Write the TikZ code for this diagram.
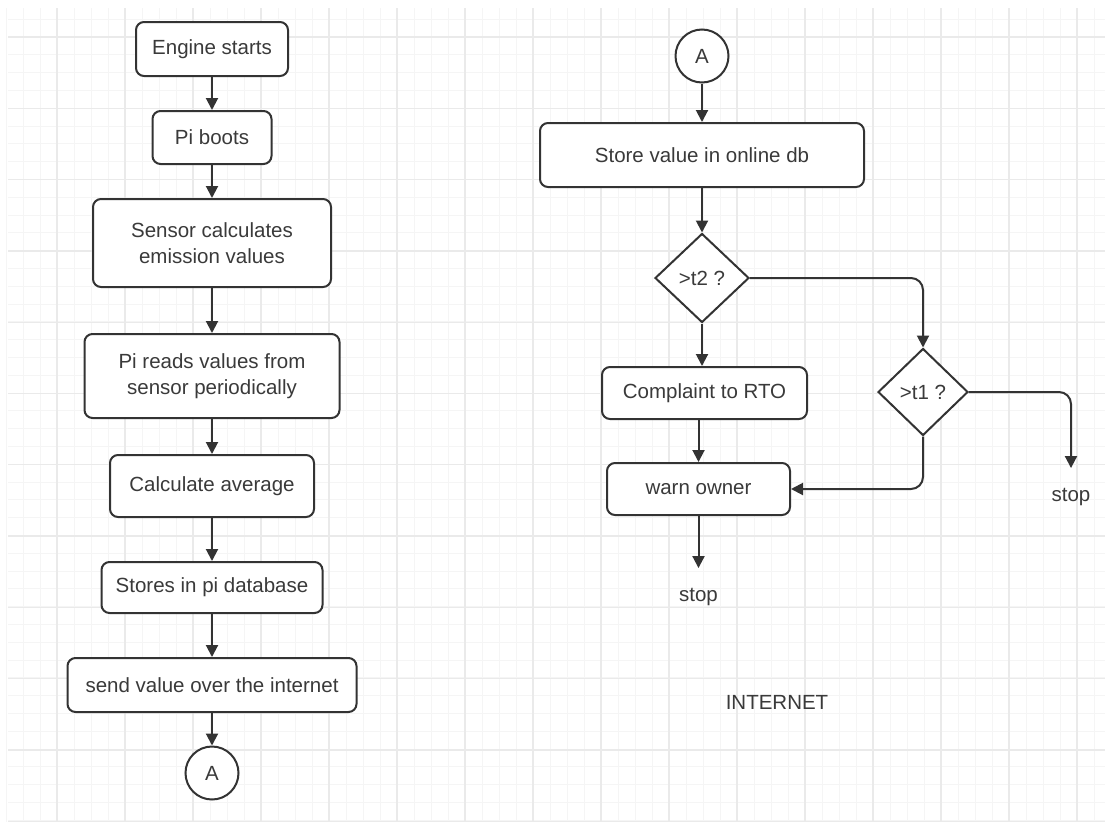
\documentclass[tikz,border=0pt]{standalone}
\usepackage{fontspec}
\setmainfont{Liberation Sans}
\usetikzlibrary{arrows.meta,shapes.geometric}
\definecolor{ln}{HTML}{333333}
\definecolor{tx}{HTML}{3A3A3A}
\definecolor{gmaj}{HTML}{EAEAEA}
\definecolor{gmin}{HTML}{F5F5F5}
\begin{document}
\begin{tikzpicture}[x=1pt,y=-1pt,
  font=\fontsize{20.5}{26}\selectfont, text=tx,
  box/.style={draw=ln, line width=2pt, rounded corners=8pt, fill=white, align=center, inner sep=0pt},
  conn/.style={draw=ln, line width=2pt, circle, fill=white, minimum size=53pt, inner sep=0pt},
  dec/.style={draw=ln, line width=2pt, diamond, fill=white, inner sep=0pt},
  lbl/.style={inner sep=0pt},
  arr/.style={draw=ln, line width=2pt, -{Triangle[length=12pt,width=12pt]}},
  gridmin/.style={draw=gmin, line width=1pt},
  gridmaj/.style={draw=gmaj, line width=1.3pt},
]
\useasboundingbox (0,0) rectangle (1115,830);
\fill[white] (0,0) rectangle (1115,830);
% minor grid
\foreach \i in {0,...,64} \draw[gridmin] ({6+17*\i},8) -- ({6+17*\i},822);
\foreach \i in {0,...,45} \draw[gridmin] (8,{19.2+17.8*\i}) -- (1105,{19.2+17.8*\i});
% major grid
\foreach \i in {0,...,15} \draw[gridmaj] ({57+68*\i},8) -- ({57+68*\i},822);
\foreach \i in {0,...,11} \draw[gridmaj] (8,{37+71.3*\i}) -- (1105,{37+71.3*\i});

% left column
\node[box, minimum width=152pt, minimum height=54pt] (n1) at (212,49) {Engine starts};
\node[box, minimum width=119pt, minimum height=53pt] (n2) at (212,137.5) {Pi boots};
\node[box, minimum width=238pt, minimum height=88pt] (n3) at (212,243) {Sensor calculates\\emission values};
\node[box, minimum width=255pt, minimum height=84pt] (n4) at (212,376) {Pi reads values from\\sensor periodically};
\node[box, minimum width=204pt, minimum height=62pt] (n5) at (212,486) {Calculate average};
\node[box, minimum width=221pt, minimum height=51pt] (n6) at (212,587.5) {Stores in pi database};
\node[box, minimum width=289pt, minimum height=54pt] (n7) at (212,685) {send value over the internet};
\node[conn] (a1) at (212,773) {A};

\draw[arr] (n1) -- (n2);
\draw[arr] (n2) -- (n3);
\draw[arr] (n3) -- (n4);
\draw[arr] (n4) -- (n5);
\draw[arr] (n5) -- (n6);
\draw[arr] (n6) -- (n7);
\draw[arr] (n7) -- (a1);

% right column
\node[conn] (a2) at (702,56) {A};
\node[box, minimum width=324pt, minimum height=64pt] (s1) at (702,155) {Store value in online db};
\node[dec, minimum width=94pt, minimum height=89pt] (d1) at (702,278) {>t2 ?};
\node[box, minimum width=205pt, minimum height=52pt] (c1) at (704.5,393) {Complaint to RTO};
\node[box, minimum width=183pt, minimum height=52pt] (w1) at (698.5,489) {warn owner};
\node[lbl] (stop1) at (698.5,597) {stop};
\node[dec, minimum width=90pt, minimum height=87pt] (d2) at (923,392) {>t1 ?};
\node[lbl] (stop2) at (1071,497) {stop};
\node[lbl] (inet) at (777,702) {INTERNET};

\draw[arr] (a2) -- (s1);
\draw[arr] (s1) -- (d1);
\draw[arr] (d1.south) -- (d1.south |- c1.north);
\draw[arr] (w1.north |- c1.south) -- (w1.north);
\draw[arr, shorten >=20pt] (w1) -- (stop1);
\draw[arr, rounded corners=12pt] (d1.east) -| (d2.north);
\draw[arr, rounded corners=12pt] (d2.south) |- (w1.east);
\draw[arr, rounded corners=12pt, shorten >=20pt] (d2.east) -| (stop2.north);
\end{tikzpicture}
\end{document}
